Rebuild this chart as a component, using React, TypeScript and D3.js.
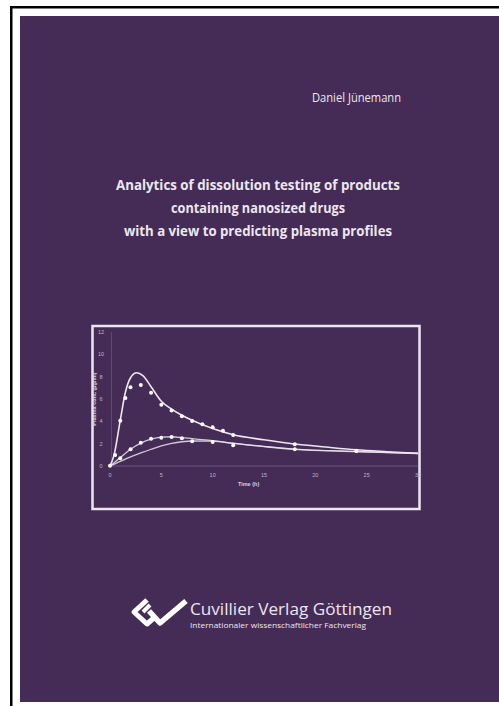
import React from "react";
import * as d3 from "d3";

// ---- data ----
const xTicks = [0, 5, 10, 15, 20, 25, 30];
const yTicks = [0, 2, 4, 6, 8, 10, 12];

// observed points, high series
const highT = [0.5, 1, 1.5, 2, 3, 4, 5, 6, 7, 8, 9, 10, 11, 12, 18, 24];
const highV = [0.98, 4.06, 6.1, 7.05, 7.25, 6.57, 5.49, 4.98, 4.45, 4.03, 3.73, 3.46, 3.16, 2.78, 1.94, 1.37];

// observed points, low series
const lowT = [0, 1, 2, 3, 4, 5, 6, 7, 8, 10, 12, 18, 24];
const lowV = [0.03, 0.69, 1.49, 2.09, 2.45, 2.54, 2.6, 2.48, 2.21, 2.15, 1.85, 1.49, 1.34];

// fitted curves
const curveAT = [0, 0.4, 1, 1.5, 2, 2.6, 3.2, 4, 5, 6, 7, 8, 10, 12, 15, 18, 21, 24, 27, 30];
const curveAV = [0, 1.0, 4.1, 6.6, 7.9, 8.35, 8.1, 7.1, 5.8, 5.1, 4.55, 4.1, 3.35, 2.8, 2.35, 1.97, 1.7, 1.45, 1.28, 1.13];
const curveBT = [0, 1, 2, 3, 4, 5, 6, 7, 8, 10, 12, 15, 18, 24, 30];
const curveBV = [0, 0.75, 1.5, 2.05, 2.4, 2.58, 2.62, 2.55, 2.45, 2.27, 2.05, 1.75, 1.52, 1.3, 1.13];
const curveCT = [0, 1, 2, 3, 4, 5, 6, 7, 8, 10, 12, 15, 18, 24, 30];
const curveCV = [0, 0.42, 0.82, 1.17, 1.5, 1.8, 2.02, 2.17, 2.24, 2.22, 2.02, 1.73, 1.48, 1.28, 1.12];

const titleLines = [
  "Analytics of dissolution testing of products",
  "containing nanosized drugs",
  "with a view to predicting plasma profiles",
];
const titleWidths = [284, 174, 268];

const BG = "#452c56";
const FG = "#ece6f0";

export default function App() {
  const x = d3.scaleLinear().domain([0, 30]).range([110, 418]);
  const y = d3.scaleLinear().domain([0, 12]).range([466, 332]);
  const line = d3
    .line<[number, number]>()
    .x((d) => x(d[0]))
    .y((d) => y(d[1]))
    .curve(d3.curveMonotoneX);
  const zip = (a: number[], b: number[]) => a.map((t, i) => [t, b[i]] as [number, number]);

  return (
    <svg
      width={499}
      height={706}
      style={{ position: "absolute", left: 0, top: 0, background: "#fff" }}
    >
      <rect x={0} y={0} width={499} height={706} fill="#fff" />
      {/* outer black frame lines */}
      <rect x={10} y={6} width={489} height={2.5} fill="#000" />
      <rect x={10} y={6} width={2.5} height={700} fill="#000" />
      {/* cover */}
      <rect x={20} y={16} width={479} height={686} fill={BG} />

      <text
        x={401}
        y={102}
        textAnchor="end"
        fontFamily="Open Sans, sans-serif"
        fontSize={12.5}
        fill={FG}
        textLength={89}
        lengthAdjust="spacingAndGlyphs"
      >
        Daniel Jünemann
      </text>

      {titleLines.map((t, i) => (
        <text
          key={i}
          x={258}
          y={190 + i * 23}
          textAnchor="middle"
          fontFamily="Open Sans, sans-serif"
          fontWeight="bold"
          fontSize={14.8}
          fill={FG}
          textLength={titleWidths[i]}
          lengthAdjust="spacingAndGlyphs"
        >
          {t}
        </text>
      ))}

      {/* chart frame */}
      <rect x={92.5} y={326} width={327} height={183} fill="none" stroke={FG} strokeWidth={2.5} />

      {/* axes */}
      <line x1={x(0)} x2={x(30)} y1={y(0)} y2={y(0)} stroke="#6a5680" strokeWidth={1} />
      <line x1={x(0) + 1.5} x2={x(0) + 1.5} y1={y(12)} y2={y(0)} stroke="#5c4872" strokeWidth={1} />
      {yTicks.map((v) => (
        <text
          key={v}
          x={101}
          y={y(v) + 2}
          textAnchor="middle"
          fontFamily="Liberation Sans, Arial, sans-serif"
          fontSize={5.5}
          fill="#bfb4cb"
        >
          {v}
        </text>
      ))}
      {xTicks.map((v) => (
        <text
          key={v}
          x={x(v)}
          y={477}
          textAnchor="middle"
          fontFamily="Liberation Sans, Arial, sans-serif"
          fontSize={5.5}
          fill="#bfb4cb"
        >
          {v}
        </text>
      ))}
      <text
        x={x(13.5)}
        y={486}
        textAnchor="middle"
        fontFamily="Liberation Sans, Arial, sans-serif"
        fontWeight="bold"
        fontSize={5.5}
        fill="#d8d0e0"
      >
        Time (h)
      </text>
      <text
        transform={`translate(95.5,${y(6)}) rotate(-90)`}
        textAnchor="middle"
        fontFamily="Liberation Sans, Arial, sans-serif"
        fontWeight="bold"
        fontSize={5.5}
        fill="#d8d0e0"
      >
        Plasma conc (µg/ml)
      </text>

      {/* curves */}
      <path d={line(zip(curveCT, curveCV)) || ""} fill="none" stroke={FG} strokeWidth={1.3} opacity={0.85} />
      <path d={line(zip(curveBT, curveBV)) || ""} fill="none" stroke={FG} strokeWidth={1.3} opacity={0.85} />
      <path d={line(zip(curveAT, curveAV)) || ""} fill="none" stroke={FG} strokeWidth={1.6} />

      {/* points */}
      {highT.map((t, i) => (
        <circle key={"h" + i} cx={x(t)} cy={y(highV[i])} r={2} fill="#fff" />
      ))}
      {lowT.map((t, i) => (
        <circle key={"l" + i} cx={x(t)} cy={y(lowV[i])} r={2} fill="#fff" />
      ))}

      {/* publisher logo */}
      <g fill="none" stroke="#fff" strokeLinejoin="round">
        <path d="M147 600 L134 612 L147 624 L155 617" strokeWidth={5} />
        <path d="M143 612 L150 605" strokeWidth={4} />
        <path d="M149 611 L160 623 L186 601" strokeWidth={5.5} />
      </g>
      <text
        x={190}
        y={615}
        fontFamily="Open Sans, sans-serif"
        fontSize={16.5}
        fill={FG}
        textLength={202}
        lengthAdjust="spacingAndGlyphs"
      >
        Cuvillier Verlag Göttingen
      </text>
      <text
        x={190}
        y={627.5}
        fontFamily="Open Sans, sans-serif"
        fontSize={7.8}
        fill={FG}
        textLength={176}
        lengthAdjust="spacingAndGlyphs"
      >
        Internationaler wissenschaftlicher Fachverlag
      </text>
    </svg>
  );
}
